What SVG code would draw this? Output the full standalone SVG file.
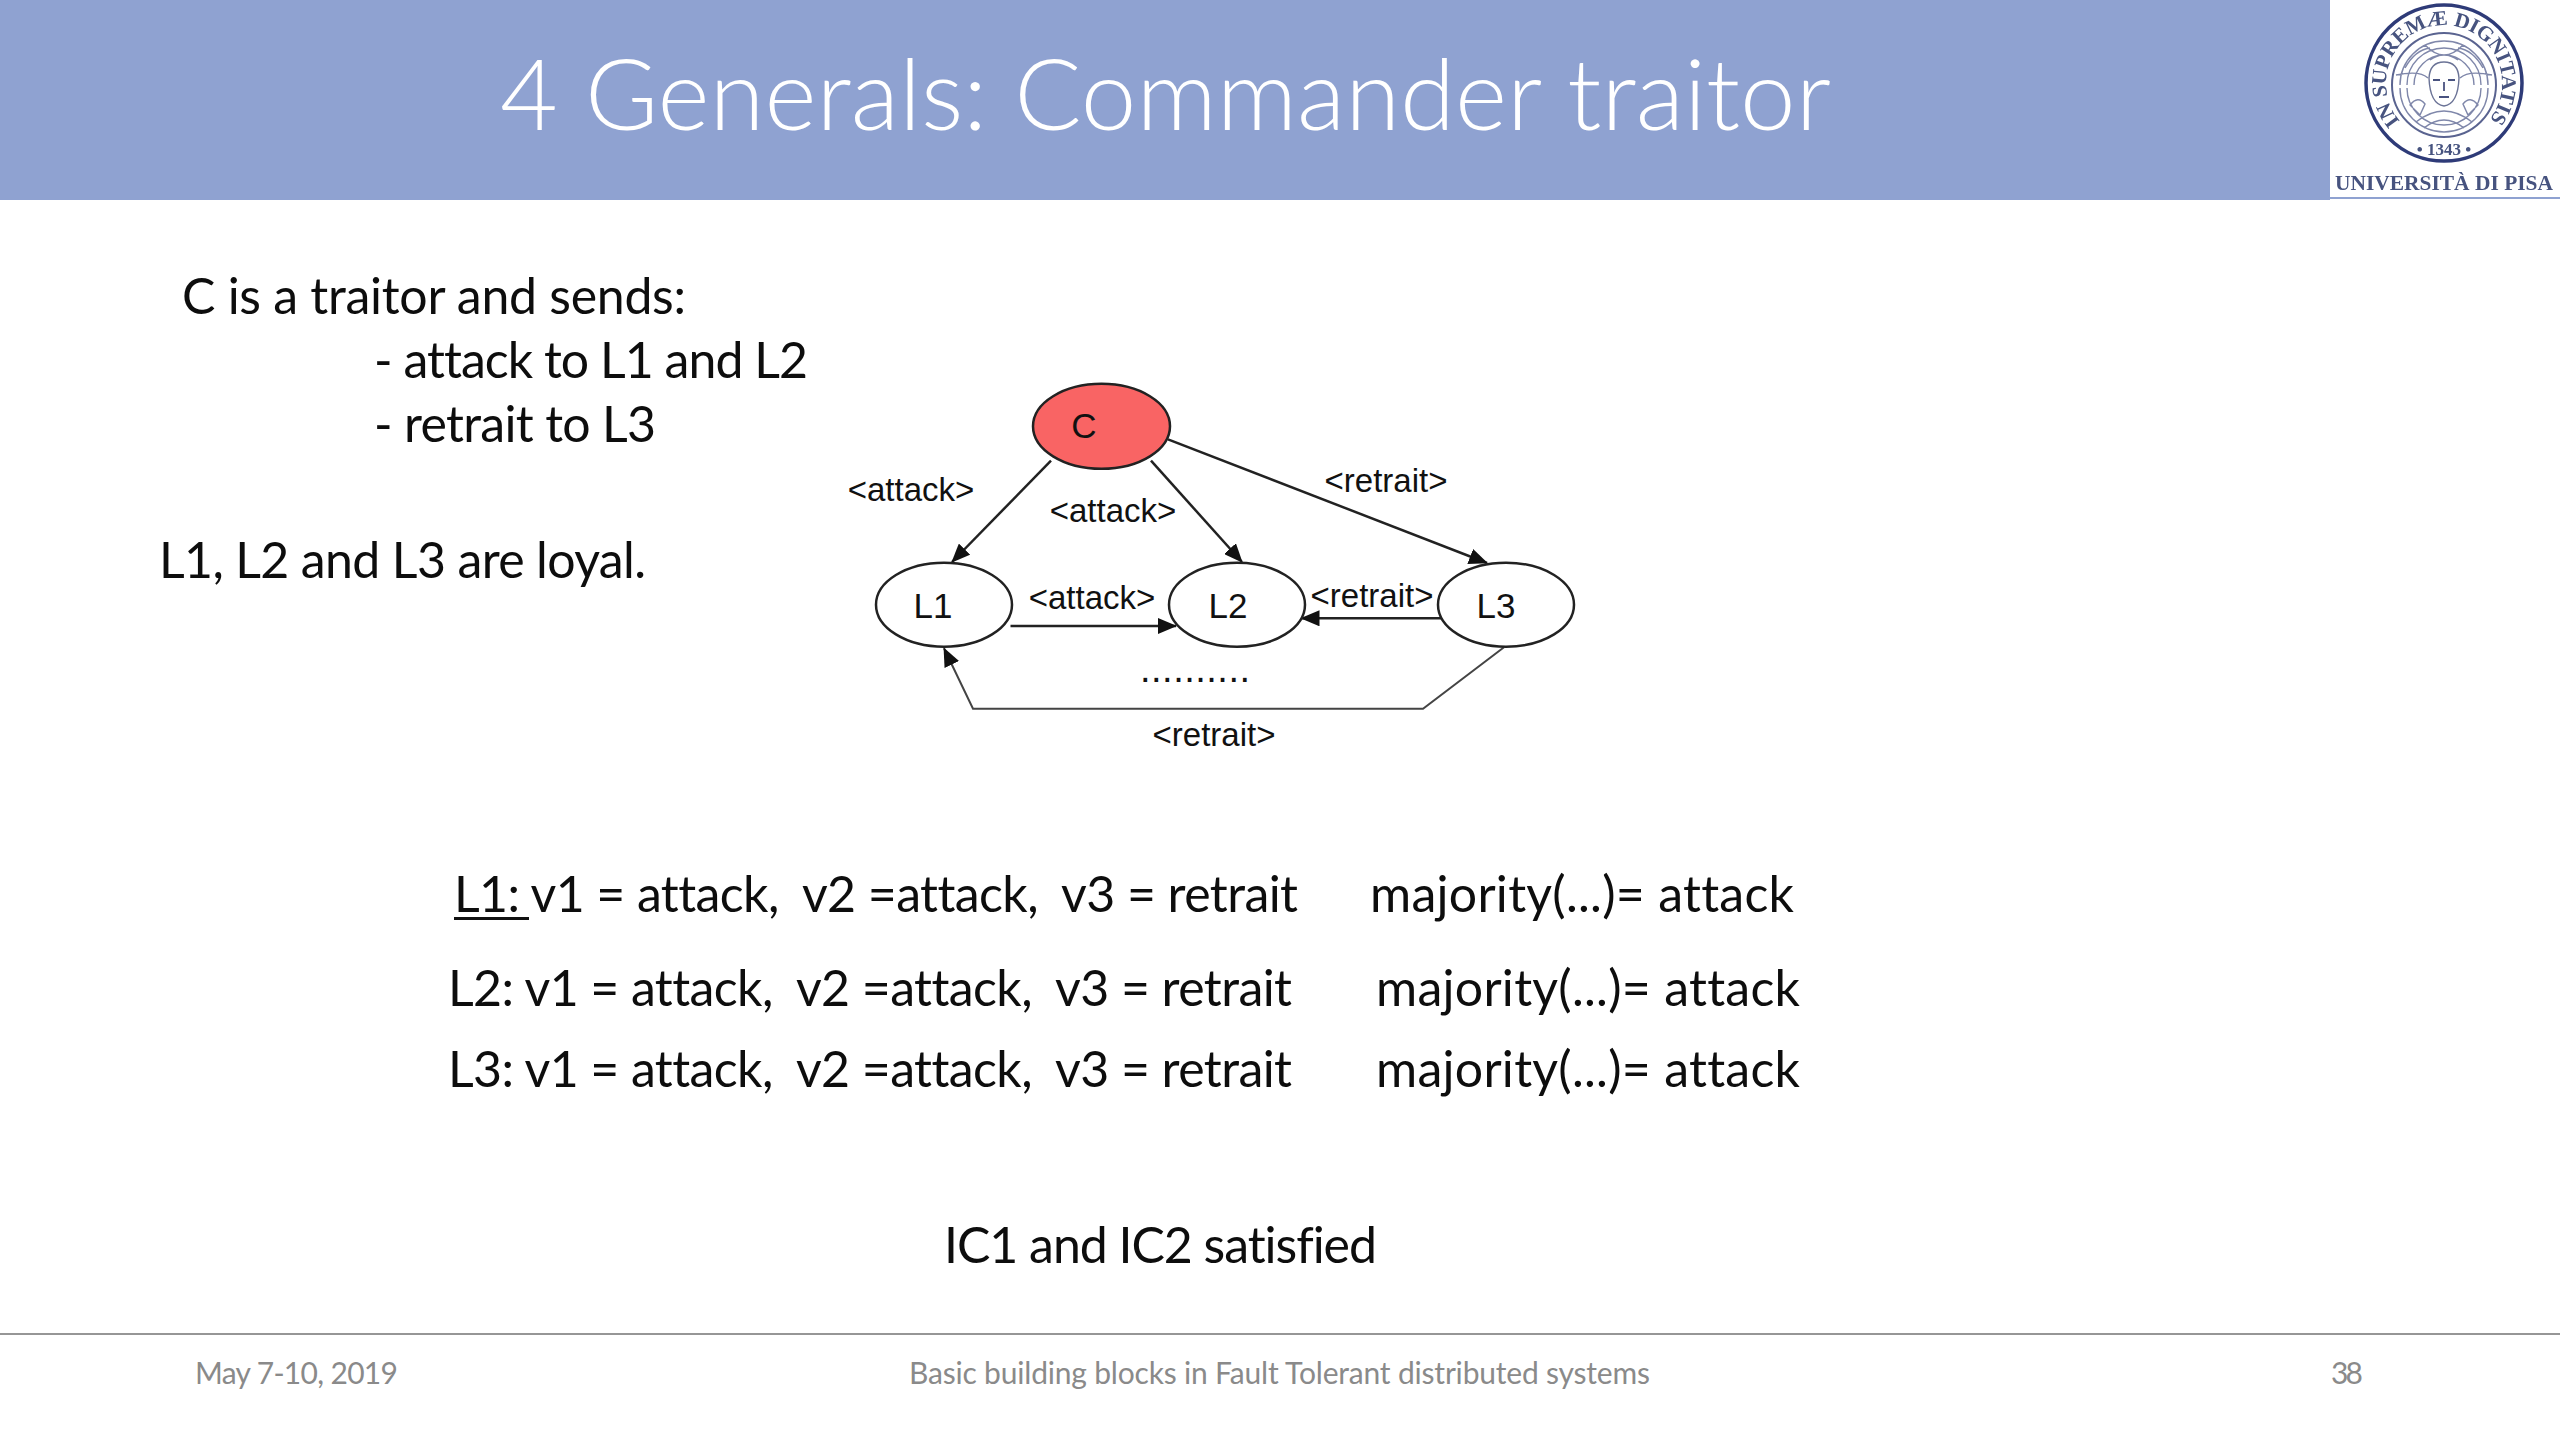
<svg xmlns="http://www.w3.org/2000/svg" width="2560" height="1440" viewBox="0 0 2560 1440">
<style>
text{white-space:pre;font-variant-ligatures:none}
.t{font-family:"Lato","Carlito","Open Sans",sans-serif;font-size:50px;fill:#0d0d0d}
.f{font-family:"Lato","Open Sans",sans-serif;font-size:30px;fill:#8a8a8a}
.l{font-family:"Liberation Sans",Arial,sans-serif;font-size:33px;fill:#111;text-anchor:middle}
.nl{font-size:35px}
.n{fill:#fff;stroke:#222;stroke-width:2.5}
.e{fill:none;stroke:#222;stroke-width:2.5;marker-end:url(#a)}
.s{font-family:"Liberation Serif",serif;fill:#46537f;font-weight:bold}
.d{fill:none;stroke:#7f87aa;stroke-width:1.4}
</style>
<defs>
<marker id="a" markerUnits="userSpaceOnUse" markerWidth="19" markerHeight="16" refX="18" refY="8" orient="auto"><path d="M0 0L19 8L0 16Z" fill="#111"/></marker>
<path id="ring" d="M2400 121A58 58 0 1 1 2488 121"/>
<filter id="b" x="-5%" y="-5%" width="110%" height="110%"><feGaussianBlur stdDeviation="0.6"/></filter>
</defs>
<rect width="2560" height="1440" fill="#fff"/>
<rect id="header" width="2330" height="200" fill="#8fa2d1"/>
<rect x="2330" y="197" width="230" height="2" fill="#8fa2d1"/>
<text x="500" y="130" font-family="Lato,'Open Sans',sans-serif" font-weight="300" font-size="98" fill="#fff" textLength="1331" lengthAdjust="spacingAndGlyphs">4 Generals: Commander traitor</text>
<g id="logo" filter="url(#b)">
<circle cx="2444" cy="83" r="78" fill="none" stroke="#2f3b78" stroke-width="3.500"/>
<circle cx="2444" cy="85" r="52" fill="none" stroke="#5a6490" stroke-width="2"/>
<text class="s" font-size="21"><textPath href="#ring" textLength="262">IN SUPREMÆ DIGNITATIS</textPath></text>
<text class="s" x="2444" y="155" font-size="17" text-anchor="middle">• 1343 •</text>
<path class="d" d="M2400 85A44 44 0 0 1 2488 85M2407 85A37 37 0 0 1 2481 85M2414 85A30 30 0 0 1 2474 85M2400 88A44 44 0 0 0 2488 88M2407 88A37 37 0 0 0 2481 88M2396 75Q2420 70 2428 78M2492 75Q2468 70 2460 78M2425 45Q2444 65 2463 45M2430 60Q2444 50 2458 60M2416 122Q2444 100 2472 122M2424 128Q2444 112 2464 128M2405 68Q2415 50 2430 48M2483 68Q2473 50 2458 48M2410 105Q2418 95 2425 104L2420 115ZM2478 105Q2470 95 2463 104L2468 115Z"/>
<path d="M2429 78Q2430 62 2444 62Q2458 62 2459 78Q2458 104 2444 106Q2430 104 2429 78Z" fill="#fff" stroke="#6b7396" stroke-width="1.400"/>
<path d="M2433 80h7M2448 80h7M2444 82v9M2439 97h10" fill="none" stroke="#4a5380" stroke-width="1.800"/>
<text class="s" x="2444" y="190" font-size="21" text-anchor="middle" textLength="218" lengthAdjust="spacingAndGlyphs">UNIVERSITÀ DI PISA</text>
</g>
<text class="t" x="182" y="314" textLength="504">C is a traitor and sends:</text>
<text class="t" x="374" y="378" textLength="434">- attack to L1 and L2</text>
<text class="t" x="374" y="442" textLength="282">- retrait to L3</text>
<text class="t" x="159" y="578" textLength="487">L1, L2 and L3 are loyal.</text>
<g id="connectors">
<path class="e" d="M1051 460.700L952 562"/>
<path class="e" d="M1151 460.700L1242 562"/>
<path class="e" d="M1168 439.300L1487 563"/>
<path class="e" d="M1010.500 626L1176 626"/>
<path class="e" d="M1442 618.300L1301.500 618.300"/>
<path class="e" style="stroke-width:2;stroke:#444" d="M1504 647.300L1423 708.700L973 708.700L944 648.300"/>
</g>
<g id="node-C"><ellipse class="n" cx="1101.500" cy="426.300" rx="68.500" ry="42.500" style="fill:#f96464"/><text class="l nl" x="1084" y="438">C</text></g>
<g id="node-L1"><ellipse class="n" cx="944" cy="604.700" rx="68" ry="42"/><text class="l nl" x="933" y="618">L1</text></g>
<g id="node-L2"><ellipse class="n" cx="1237" cy="604.700" rx="68" ry="42"/><text class="l nl" x="1228" y="618">L2</text></g>
<g id="node-L3"><ellipse class="n" cx="1506" cy="604.700" rx="68" ry="42"/><text class="l nl" x="1496" y="618">L3</text></g>
<g id="edge-labels">
<text class="l" x="911" y="501">&lt;attack&gt;</text>
<text class="l" x="1113" y="522">&lt;attack&gt;</text>
<text class="l" x="1092" y="609">&lt;attack&gt;</text>
<text class="l" x="1386" y="492">&lt;retrait&gt;</text>
<text class="l" x="1372" y="607">&lt;retrait&gt;</text>
<text class="l" x="1214" y="746">&lt;retrait&gt;</text>
<text class="l" x="1195" y="682" textLength="110" style="font-size:38px">..........</text>
</g>
<text class="t" x="454" y="912" textLength="844">L1: v1 = attack,  v2 =attack,  v3 = retrait</text>
<rect x="454" y="917" width="75" height="3" fill="#111"/>
<text class="t" x="1370" y="912" textLength="424">majority(...)= attack</text>
<text class="t" x="448" y="1006" textLength="844">L2: v1 = attack,  v2 =attack,  v3 = retrait</text>
<text class="t" x="1376" y="1006" textLength="424">majority(...)= attack</text>
<text class="t" x="448" y="1087" textLength="844">L3: v1 = attack,  v2 =attack,  v3 = retrait</text>
<text class="t" x="1376" y="1087" textLength="424">majority(...)= attack</text>
<text class="t" x="944" y="1263" textLength="433">IC1 and IC2 satisfied</text>
<g id="footer">
<rect y="1333" width="2560" height="2" fill="#969696"/>
<text class="f" x="195" y="1384" textLength="203">May 7-10, 2019</text>
<text class="f" x="909" y="1384" textLength="741">Basic building blocks in Fault Tolerant distributed systems</text>
<text class="f" x="2331" y="1384" textLength="32">38</text>
</g>
</svg>
